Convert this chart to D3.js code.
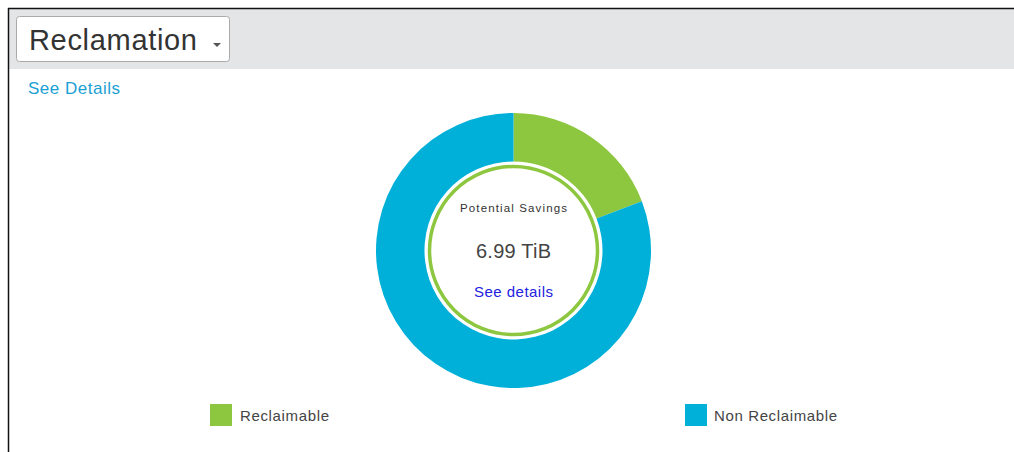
<!DOCTYPE html>
<html><head><meta charset="utf-8">
<script src="https://cdn.jsdelivr.net/npm/d3@7"></script>
<style>
html,body{margin:0;padding:0;background:#fff;}
svg{display:block;font-family:"Liberation Sans",Arial,sans-serif;}
</style></head>
<body>
<svg id="chart" width="1014" height="452"></svg>
<script>
const categories = ["Reclaimable", "Non Reclaimable"];
const values = [6.99, 29.5];
const colors = ["#8dc63f", "#00b0d9"];
const title = "Reclamation";
const centerLabel = "Potential Savings";
const centerValue = "6.99 TiB";
const centerLink = "See details";
const topLink = "See Details";

const svg = d3.select("#chart");

// frame / header
svg.append("rect").attr("x", 9).attr("y", 9).attr("width", 1005).attr("height", 60).attr("fill", "#e4e5e6");
svg.append("line").attr("x1", 8).attr("x2", 1014).attr("y1", 8.5).attr("y2", 8.5).attr("stroke", "#111").attr("stroke-width", 1.5);
svg.append("line").attr("x1", 8.5).attr("x2", 8.5).attr("y1", 8).attr("y2", 452).attr("stroke", "#111").attr("stroke-width", 1.5);

// dropdown
svg.append("rect").attr("x", 16.5).attr("y", 16.5).attr("width", 213).attr("height", 45).attr("rx", 3)
  .attr("fill", "#fff").attr("stroke", "#a9a9a9");
svg.append("text").attr("x", 29).attr("y", 50).attr("font-size", 29).attr("fill", "#333")
  .attr("textLength", 168).attr("lengthAdjust", "spacing").text(title);
svg.append("path").attr("d", "M213,43 L221,43 L217,47 Z").attr("fill", "#555");

svg.append("text").attr("x", 28).attr("y", 94).attr("font-size", 17).attr("fill", "#1a9fd4")
  .attr("textLength", 92).attr("lengthAdjust", "spacing").text(topLink);

// donut
const cx = 513.5, cy = 250.5;
const pie = d3.pie().sort(null).value(d => d)(values);
const arc = d3.arc().innerRadius(89).outerRadius(137.5);
const g = svg.append("g").attr("transform", `translate(${cx},${cy})`);
g.selectAll("path.slice").data(pie).join("path").attr("class", "slice")
  .attr("d", arc).attr("fill", (d, i) => colors[i]);
g.append("circle").attr("r", 84).attr("fill", "#fff").attr("stroke", colors[0]).attr("stroke-width", 3.5);

g.append("text").attr("text-anchor", "middle").attr("x", 0).attr("y", -39).attr("font-size", 11.5)
  .attr("fill", "#333").attr("textLength", 107).attr("lengthAdjust", "spacing").text(centerLabel);
g.append("text").attr("text-anchor", "middle").attr("x", 0).attr("y", 7).attr("font-size", 20)
  .attr("fill", "#444").attr("textLength", 75).attr("lengthAdjust", "spacing").text(centerValue);
g.append("text").attr("text-anchor", "middle").attr("x", 0).attr("y", 46).attr("font-size", 15)
  .attr("fill", "#2222e0").attr("textLength", 79).attr("lengthAdjust", "spacing").text(centerLink);

// legend
const legendX = [210, 685];
const legendW = [89, 123];
const lg = svg.selectAll("g.legend").data(categories).join("g").attr("class", "legend")
  .attr("transform", (d, i) => `translate(${legendX[i]},404)`);
lg.append("rect").attr("width", 22).attr("height", 22).attr("fill", (d, i) => colors[i]);
lg.append("text").attr("x", (d, i) => i === 0 ? 30 : 29).attr("y", 16.5).attr("font-size", 15).attr("fill", "#444")
  .attr("textLength", (d, i) => legendW[i]).attr("lengthAdjust", "spacing").text(d => d);
</script>
</body></html>
